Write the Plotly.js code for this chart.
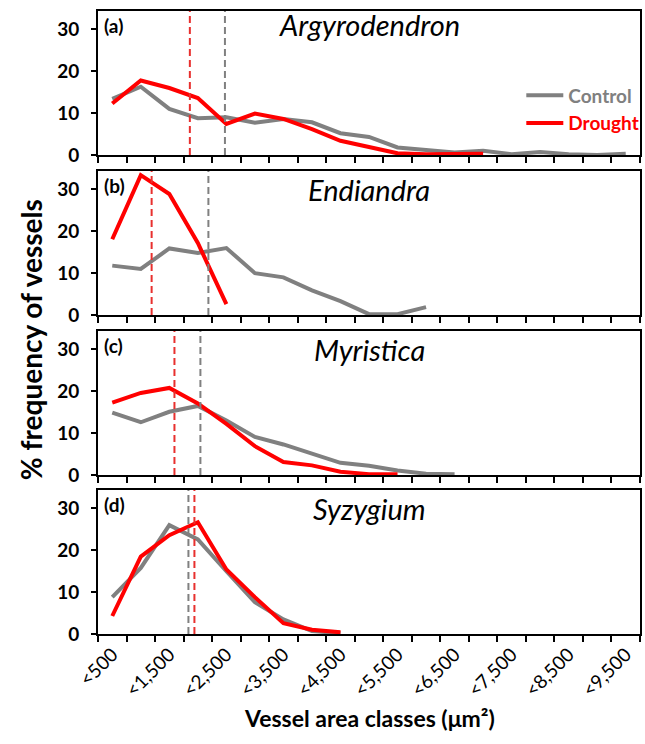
<!DOCTYPE html>
<html>
<head>
<meta charset="utf-8">
<script src="https://cdn.plot.ly/plotly-3.0.1.min.js"></script>
<style>html,body{margin:0;padding:0;background:#fff;}#chart{width:645px;height:744px;}</style>
</head>
<body>
<div id="chart"></div>
<script>
// ---- data ----
const categories = ['<500','<1,000','<1,500','<2,000','<2,500','<3,000','<3,500','<4,000','<4,500','<5,000',
                    '<5,500','<6,000','<6,500','<7,000','<7,500','<8,000','<8,500','<9,000','<9,500'];
const panelLetters = ['(a)','(b)','(c)','(d)'];
const species = ['Argyrodendron','Endiandra','Myristica','Syzygium'];
const controlArgy = [13.4,16.3,11.0,8.8,9.0,7.7,8.6,7.8,5.2,4.3,1.8,1.2,0.6,1.0,0.2,0.7,0.2,0.0,0.3];
const droughtArgy = [12.3,17.8,16.0,13.6,7.4,9.9,8.6,6.2,3.4,1.8,0.4,0.2,0.2,0.3];
const controlEndi = [11.8,11.0,15.9,14.8,16.0,10.0,9.0,5.9,3.3,0.2,0.2,1.9];
const droughtEndi = [18.1,33.4,28.9,17.2,2.6];
const controlMyri = [14.9,12.6,15.1,16.5,13.0,9.1,7.3,5.1,2.9,2.2,1.1,0.3,0.2];
const droughtMyri = [17.3,19.6,20.8,17.1,12.2,6.9,3.1,2.3,0.8,0.2,0.2];
const controlSyzy = [8.8,15.8,26.0,22.6,15.0,7.6,3.5,0.7,0.2];
const droughtSyzy = [4.3,18.5,23.6,26.7,15.4,8.8,2.6,1.0,0.4];
// mean vessel area positions (in category-class units)
const meanControl = [3.95,3.37,3.09,2.67];
const meanDrought = [2.72,1.38,2.18,2.88];
const yTicks = [0,10,20,30];

const controlSets = [controlArgy, controlEndi, controlMyri, controlSyzy];
const droughtSets = [droughtArgy, droughtEndi, droughtMyri, droughtSyzy];

const GRAY = '#808080', RED = '#ff0000';
const FONT = 'Lato, "Open Sans", sans-serif';
const YMAX = 34.4;

// ---- layout geometry ----
const domains = [[0.7689,1.0],[0.5120,0.7432],[0.2552,0.4864],[0.0,0.2311]];
const speciesY = [1.045,1.01,1.01,1.01];
const idx = categories.map((c,i)=>i);
const boundaries = categories.concat(['']).map((c,i)=>i-0.5);
const labelVals = idx.filter(i=>i%2===0);
const labelText = labelVals.map(i=>categories[i]);

const traces = [];
const layout = {
  width:645, height:744,
  margin:{l:98, r:1, t:11, b:110},
  paper_bgcolor:'#fff', plot_bgcolor:'#fff',
  font:{family:FONT, color:'#000'},
  showlegend:true,
  legend:{x:0.781, y:0.895, xanchor:'left', yanchor:'top', bgcolor:'rgba(0,0,0,0)',
          font:{family:FONT, size:19, weight:'bold'}, itemwidth:37, tracegroupgap:0},
  annotations:[], shapes:[]
};

for (let p=0; p<4; p++) {
  const n = p===0 ? '' : String(p+1);
  const xa = 'x'+n, ya = 'y'+n;
  const cData = controlSets[p], dData = droughtSets[p];
  traces.push({x: idx.slice(0,cData.length), y: cData, xaxis:xa, yaxis:ya, type:'scatter', mode:'lines',
    line:{color:GRAY, width:4}, name:'<span style="color:'+GRAY+'">Control</span>', showlegend:p===0, legendrank:1});
  traces.push({x: idx.slice(0,dData.length), y: dData, xaxis:xa, yaxis:ya, type:'scatter', mode:'lines',
    line:{color:RED, width:4}, name:'<span style="color:'+RED+'">Drought</span>', showlegend:p===0, legendrank:2});
  traces.push({x:[meanDrought[p],meanDrought[p]], y:[0,YMAX], xaxis:xa, yaxis:ya, type:'scatter', mode:'lines',
    line:{color:'#e8302e', width:2, dash:'7px,4px'}, showlegend:false, hoverinfo:'skip'});
  traces.push({x:[meanControl[p],meanControl[p]], y:[0,YMAX], xaxis:xa, yaxis:ya, type:'scatter', mode:'lines',
    line:{color:GRAY, width:2, dash:'7px,4px'}, showlegend:false, hoverinfo:'skip'});

  const xkey = 'xaxis'+n, ykey = 'yaxis'+n;
  layout[xkey] = {
    domain:[0,1], anchor:ya, range:[-0.5, categories.length-0.5], type:'linear',
    showline:true, linecolor:'#000', linewidth:2, mirror:true, zeroline:false, showgrid:false,
    tickmode:'array', tickvals:labelVals, ticktext:labelText, ticks:'',
    showticklabels: p===3, tickangle:-45, tickfont:{family:FONT, size:19, color:'#000'},
    minor:{tickmode:'array', tickvals:boundaries, ticks:'outside', ticklen:6, tickwidth:2, tickcolor:'#000', showgrid:false}
  };
  if (p<3) layout[xkey].matches = 'x4';
  layout[ykey] = {
    domain:domains[p], anchor:xa, range:[0,YMAX], fixedrange:true,
    showline:true, linecolor:'#000', linewidth:2, mirror:true, zeroline:false, showgrid:false,
    tickmode:'array', tickvals:yTicks, ticks:'outside', ticklen:5, tickwidth:2, tickcolor:'#000',
    tickfont:{family:FONT, size:19, weight:'bold', color:'#000'}, ticklabelstandoff:8
  };
  layout.annotations.push({xref:xa+' domain', yref:ya+' domain', x:0.008, y:0.99, xanchor:'left', yanchor:'top',
    text:'<b>'+panelLetters[p]+'</b>', showarrow:false, font:{family:FONT, size:19, color:'#000'}});
  layout.annotations.push({xref:xa+' domain', yref:ya+' domain', x:0.5, y:speciesY[p], xanchor:'center', yanchor:'top',
    text:'<i>'+species[p]+'</i>', showarrow:false, font:{family:FONT, size:29, color:'#000'}});
}
layout.annotations.push({xref:'paper', yref:'paper', x:-0.123, y:0.472, textangle:-90, xanchor:'center', yanchor:'middle',
  text:'<b>% frequency of vessels</b>', showarrow:false, font:{family:FONT, size:28, color:'#000'}});
layout.annotations.push({xref:'paper', yref:'paper', x:0.5, y:-0.135, xanchor:'center', yanchor:'middle',
  text:'<b>Vessel area classes (μm²)</b>', showarrow:false, font:{family:FONT, size:23, color:'#000'}});

Plotly.newPlot('chart', traces, layout, {staticPlot:true, displayModeBar:false});
</script>
</body>
</html>
